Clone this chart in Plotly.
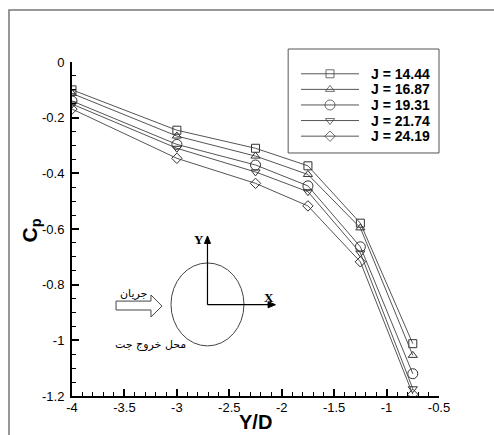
import plotly.graph_objects as go

# Pressure coefficient along the jet exit line for several momentum ratios J
y_over_d = [-4.0, -3.0, -2.25, -1.75, -1.25, -0.75]
j_labels = ["J = 14.44", "J = 16.87", "J = 19.31", "J = 21.74", "J = 24.19"]
cp_j1444 = [-0.100, -0.245, -0.310, -0.373, -0.579, -1.012]
cp_j1687 = [-0.113, -0.266, -0.338, -0.404, -0.596, -1.054]
cp_j1931 = [-0.140, -0.296, -0.370, -0.445, -0.664, -1.120]
cp_j2174 = [-0.151, -0.310, -0.395, -0.466, -0.686, -1.174]
cp_j2419 = [-0.169, -0.346, -0.436, -0.517, -0.718, -1.194]
cp_series = [cp_j1444, cp_j1687, cp_j1931, cp_j2174, cp_j2419]
symbols = ["square-open", "triangle-up-open", "circle-open", "triangle-down-open", "diamond-open"]
sizes = [8, 8, 10, 8, 8]

x_ticks = [-4, -3.5, -3, -2.5, -2, -1.5, -1, -0.5]
y_ticks = [0, -0.2, -0.4, -0.6, -0.8, -1, -1.2]

FONT = "Arial, Liberation Sans, sans-serif"
LINE = "#555555"
MARK = "#333333"

fig = go.Figure()

for cp, name, sym, sz in zip(cp_series, j_labels, symbols, sizes):
    fig.add_trace(go.Scatter(
        x=y_over_d, y=cp, mode="lines+markers", name=name, showlegend=False,
        line=dict(color=LINE, width=1),
        marker=dict(symbol=sym, size=sz, color=MARK, line=dict(width=1, color=MARK)),
        xaxis="x", yaxis="y",
    ))

# Key: short line samples on a small auxiliary axis, one row per series
for i, (name, sym, sz) in enumerate(zip(j_labels, symbols, sizes)):
    row = 4.5 - i
    fig.add_trace(go.Scatter(
        x=[0, 0.5, 1], y=[row, row, row], mode="lines+markers", showlegend=False,
        line=dict(color=LINE, width=1),
        marker=dict(symbol=sym, size=[0, sz, 0], color=MARK, line=dict(width=1, color=MARK)),
        xaxis="x2", yaxis="y2", hoverinfo="skip",
    ))
    fig.add_annotation(
        x=0.809, y=row, xref="paper", yref="y2", text="<b>%s</b>" % name, showarrow=False,
        xanchor="left", yanchor="middle", font=dict(family=FONT, size=14, color="black"),
    )

axis_common = dict(
    showline=True, linecolor="black", linewidth=2, mirror=False,
    ticks="inside", ticklen=7, tickwidth=2, tickcolor="black",
    showgrid=False, zeroline=False,
    tickfont=dict(family=FONT, size=13, color="black"),
)

fig.update_layout(
    width=494, height=435,
    margin=dict(l=72, r=55, t=40, b=39),
    paper_bgcolor="white", plot_bgcolor="white",
    xaxis=dict(
        range=[-4, -0.5], domain=[0, 1], tickvals=x_ticks,
        ticktext=["-4", "-3.5", "-3", "-2.5", "-2", "-1.5", "-1", "-0.5"],
        minor=dict(dtick=0.1, tick0=-4, ticks="inside", ticklen=4, tickwidth=1, tickcolor="black"),
        ticklabelstandoff=-2, anchor="y",
        **axis_common,
    ),
    yaxis=dict(
        range=[-1.2, 0], domain=[0, 0.9382], tickvals=y_ticks,
        ticktext=["0", "-0.2", "-0.4", "-0.6", "-0.8", "-1", "-1.2"],
        minor=dict(dtick=0.05, tick0=0, ticks="inside", ticklen=4, tickwidth=1, tickcolor="black"),
        ticklabelstandoff=3, anchor="x",
        **axis_common,
    ),
    xaxis2=dict(domain=[0.624, 0.782], range=[0, 1], visible=False, anchor="y2"),
    yaxis2=dict(domain=[0.708, 0.927], range=[0, 5], visible=False, anchor="x2"),
)

# Axis titles
fig.add_annotation(x=0.499, y=-0.073, xref="paper", yref="paper", text="<b>Y/D</b>",
                   xanchor="center", yanchor="middle",
                   showarrow=False, font=dict(family=FONT, size=20, color="black"))
fig.add_annotation(x=-0.113, y=0.4635, xref="paper", yref="paper", text="<b>C<sub>p</sub></b>",
                   xanchor="center", yanchor="middle",
                   showarrow=False, textangle=-90, font=dict(family=FONT, size=21, color="black"))

# Key border and outer frame
fig.add_shape(type="rect", xref="paper", yref="paper", x0=0.589, x1=1.0, y0=0.6826, y1=0.9747,
              line=dict(color="#555555", width=1))
fig.add_shape(type="rect", xref="paper", yref="paper", x0=-0.1717, x1=1.2, y0=-0.2, y1=1.0843,
              line=dict(color="#777777", width=1.5))

# Inset sketch: jet exit, inflow arrow and local axes
fig.add_shape(type="circle", xref="x", yref="y", x0=-3.056, x1=-2.36, y0=-1.020, y1=-0.722,
              line=dict(color="#444444", width=1))
fig.add_shape(type="path", xref="x", yref="y",
              path="M -3.58 -0.859 L -3.247 -0.859 L -3.247 -0.837 L -3.142 -0.877 "
                   "L -3.247 -0.916 L -3.247 -0.891 L -3.58 -0.891 Z",
              line=dict(color="#444444", width=1), fillcolor="white")
# local Y axis
fig.add_shape(type="line", xref="x", yref="y", x0=-2.708, x1=-2.708, y0=-0.872, y1=-0.640,
              line=dict(color="black", width=1.2))
fig.add_shape(type="path", xref="x", yref="y",
              path="M -2.708 -0.625 L -2.737 -0.652 L -2.679 -0.652 Z",
              line=dict(color="black", width=1), fillcolor="black")
# local X axis
fig.add_shape(type="line", xref="x", yref="y", x0=-2.708, x1=-2.10, y0=-0.872, y1=-0.872,
              line=dict(color="black", width=1.2))
fig.add_shape(type="path", xref="x", yref="y",
              path="M -2.06 -0.872 L -2.13 -0.861 L -2.13 -0.883 Z",
              line=dict(color="black", width=1), fillcolor="black")
fig.add_annotation(x=-2.79, y=-0.636, xref="x", yref="y", text="<b>Y</b>", showarrow=False,
                   font=dict(family="Liberation Serif, Times New Roman, serif", size=13, color="black"))
fig.add_annotation(x=-2.12, y=-0.845, xref="x", yref="y", text="<b>X</b>", showarrow=False,
                   font=dict(family="Liberation Serif, Times New Roman, serif", size=13, color="black"))
fig.add_annotation(x=-3.414, y=-0.830, xref="x", yref="y", text="جریان", showarrow=False,
                   font=dict(family="DejaVu Sans, sans-serif", size=11, color="black"))
fig.add_annotation(x=-3.256, y=-1.016, xref="x", yref="y", text="محل خروج جت", showarrow=False,
                   font=dict(family="DejaVu Sans, sans-serif", size=11, color="black"))

fig.write_html("out.html")
